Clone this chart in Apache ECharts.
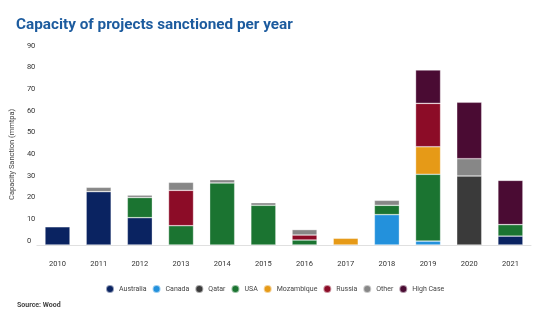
<!DOCTYPE html>
<html>
<head>
<meta charset="utf-8">
<script src="https://cdn.jsdelivr.net/npm/echarts@6/dist/echarts.min.js"></script>
<style>html,body{margin:0;padding:0;background:#fff}#c{width:553px;height:325px}</style>
</head>
<body>
<div id="c"></div>
<script>
var years = ['2010','2011','2012','2013','2014','2015','2016','2017','2018','2019','2020','2021'];
var australia  = [8.4, 24.6, 12.6, null, null, null, null, null, null, null, null, 4.1];
var canada     = [null, null, null, null, null, null, null, null, 14.0, 1.8, null, null];
var qatar      = [null, null, null, null, null, null, null, null, null, null, 31.8, null];
var usa        = [null, null, 9.3, 8.9, 28.6, 18.3, 2.3, null, 4.3, 30.8, null, 5.3];
var mozambique = [null, null, null, null, null, null, null, 3.1, null, 12.7, null, null];
var russia     = [null, null, null, 16.3, null, null, 2.3, null, null, 20.0, null, null];
var other      = [null, 2.0, 1.1, 3.7, 1.5, 1.2, 2.5, null, 2.3, null, 8.0, null];
var highCase   = [null, null, null, null, null, null, null, null, null, 15.4, 26.0, 20.4];
var yTicks = [0, 10, 20, 30, 40, 50, 60, 70, 80, 90];

var seriesDefs = [
  ['Australia', australia, '#0a2361'],
  ['Canada', canada, '#2391dc'],
  ['Qatar', qatar, '#3a3a3a'],
  ['USA', usa, '#1b7431'],
  ['Mozambique', mozambique, '#e69a17'],
  ['Russia', russia, '#8c0c27'],
  ['Other', other, '#878787'],
  ['High Case', highCase, '#4a0b33']
];
var font = 'Roboto';
var chart = echarts.init(document.getElementById('c'), null, {renderer: 'canvas'});
chart.setOption({
  animation: false,
  textStyle: {fontFamily: font},
  title: [{
    text: 'Capacity of projects sanctioned per year',
    left: 11, top: 13,
    textStyle: {fontFamily: font, fontSize: 15.3, fontWeight: 'bold', color: '#1c5b9e'}
  }, {
    text: 'Source: Wood',
    left: 12, top: 297,
    textStyle: {fontFamily: font, fontSize: 7, fontWeight: 'bold', color: '#444'}
  }],
  legend: {
    data: seriesDefs.map(function(s){return s[0];}),
    left: 100, top: 279,
    icon: 'circle', itemWidth: 8, itemHeight: 8, itemGap: 5,
    textStyle: {fontFamily: font, fontSize: 7, color: '#444'}
  },
  grid: {left: 34, right: 22, top: 49.8, bottom: 80, containLabel: false},
  xAxis: {
    type: 'category', data: years,
    axisLine: {lineStyle: {color: '#e0e0e0', width: 1}},
    axisTick: {show: false},
    axisLabel: {fontFamily: font, fontSize: 7.5, color: '#333', margin: 15}
  },
  yAxis: {
    type: 'value', min: yTicks[0], max: yTicks[yTicks.length-1], interval: 10,
    splitLine: {show: false},
    axisLine: {show: false}, axisTick: {show: false},
    axisLabel: {fontFamily: font, fontSize: 7.5, color: '#333', margin: 10, align: 'left', verticalAlign: 'bottom'},
    name: 'Capacity Sanction (mmtpa)', nameLocation: 'middle', nameGap: 15,
    nameTextStyle: {fontFamily: font, fontSize: 7.5, color: '#444', padding: [0, 14, 0, 0]}
  },
  series: seriesDefs.map(function(s){
    return {
      name: s[0], type: 'bar', stack: 'total', data: s[1], barWidth: 25,
      itemStyle: {color: s[2], borderColor: 'rgba(255,255,255,0.55)', borderWidth: 0.6}
    };
  })
});
</script>
</body>
</html>
